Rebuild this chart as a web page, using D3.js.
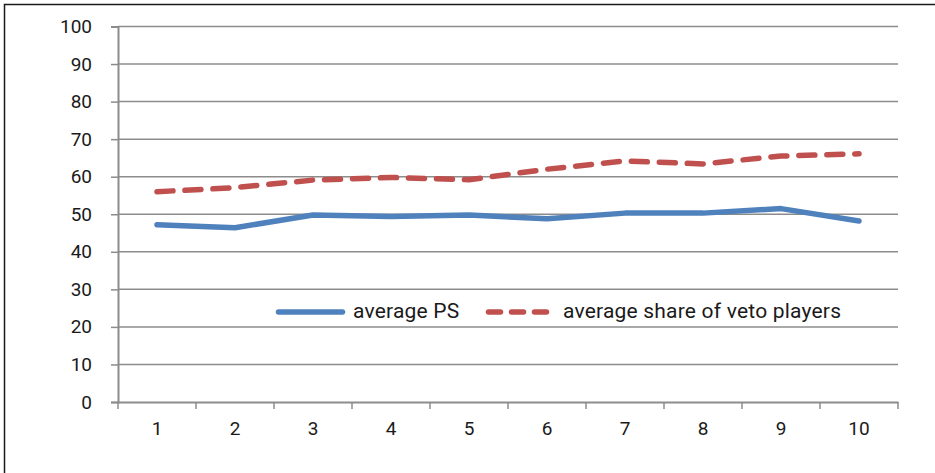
<!DOCTYPE html>
<html><head><meta charset="utf-8">
<script src="https://cdn.jsdelivr.net/npm/d3@7"></script>
<style>html,body{margin:0;padding:0;background:#fff;}svg{display:block;}</style>
</head><body>
<svg id="c" width="935" height="473"></svg>
<script>
const categories = ["1","2","3","4","5","6","7","8","9","10"];
const averagePS = [47.2, 46.4, 49.8, 49.4, 49.8, 48.8, 50.3, 50.3, 51.5, 48.2];
const averageVeto = [56.0, 57.1, 59.1, 59.8, 59.2, 62.0, 64.2, 63.4, 65.5, 66.1];
const yTicks = [0,10,20,30,40,50,60,70,80,90,100];
const seriesNames = ["average PS", "average share of veto players"];

(function(){
const svg = d3.select("#c");
const FONT = "Roboto, 'DejaVu Sans', sans-serif";
svg.append("rect").attr("x",4.5).attr("y",4.5).attr("width",940).attr("height",480)
  .attr("fill","#fff").attr("stroke","#1a1a1a").attr("stroke-width",1.5);

const pLeft=118, pRight=898, pTop=26.5, pBottom=402;
const x = d3.scaleBand().domain(categories).range([pLeft,pRight]);
const y = d3.scaleLinear().domain([0,100]).range([pBottom,pTop]);
const grid="#8c8c8c";

svg.append("g").selectAll("line").data(yTicks.filter(d=>d>0)).join("line")
  .attr("x1",pLeft).attr("x2",pRight).attr("y1",d=>y(d)).attr("y2",d=>y(d))
  .attr("stroke",grid).attr("stroke-width",1.5);

const ya = svg.append("g").attr("transform",`translate(${pLeft},0)`)
  .call(d3.axisLeft(y).tickValues(yTicks).tickSize(7).tickPadding(19));
ya.select(".domain").attr("stroke",grid).attr("stroke-width",2);
ya.selectAll(".tick line").attr("stroke",grid).attr("stroke-width",1.5);
ya.selectAll("text").attr("font-family",FONT).attr("font-size",19).attr("fill","#1a1a1a");

const xa = svg.append("g").attr("transform",`translate(0,${pBottom})`)
  .call(d3.axisBottom(x).tickSize(0).tickPadding(20));
xa.select(".domain").attr("stroke",grid).attr("stroke-width",2.2);
xa.selectAll("text").attr("font-family",FONT).attr("font-size",19).attr("fill","#1a1a1a");
const edges = categories.map(c=>x(c)).concat([pRight]);
svg.append("g").selectAll("line").data(edges).join("line")
  .attr("x1",d=>d).attr("x2",d=>d).attr("y1",pBottom).attr("y2",pBottom+7)
  .attr("stroke",grid).attr("stroke-width",1.5);

const cx = c => x(c)+x.bandwidth()/2;
const line = d3.line().x((d,i)=>cx(categories[i])).y(d=>y(d));

svg.append("path").datum(averageVeto).attr("d",line).attr("fill","none")
  .attr("stroke","#c0504d").attr("stroke-width",5.5).attr("stroke-dasharray","16,12")
  .attr("stroke-linecap","round").attr("stroke-linejoin","round");
svg.append("path").datum(averagePS).attr("d",line).attr("fill","none")
  .attr("stroke","#4f81bd").attr("stroke-width",5.5)
  .attr("stroke-linecap","round").attr("stroke-linejoin","round");

const ly = 312;
svg.append("line").attr("x1",278.5).attr("x2",342.5).attr("y1",ly).attr("y2",ly)
  .attr("stroke","#4f81bd").attr("stroke-width",5.5).attr("stroke-linecap","round");
svg.append("text").attr("x",353).attr("y",ly+5.5).text(seriesNames[0])
  .attr("font-family",FONT).attr("font-size",21).attr("letter-spacing",0.2).attr("fill","#1a1a1a");
svg.append("line").attr("x1",488.5).attr("x2",546.5).attr("y1",ly).attr("y2",ly)
  .attr("stroke","#c0504d").attr("stroke-width",5.5).attr("stroke-dasharray","12,11")
  .attr("stroke-linecap","round");
svg.append("text").attr("x",563).attr("y",ly+5.5).text(seriesNames[1])
  .attr("font-family",FONT).attr("font-size",21).attr("letter-spacing",0.2).attr("fill","#1a1a1a");
})();
</script>
</body></html>
